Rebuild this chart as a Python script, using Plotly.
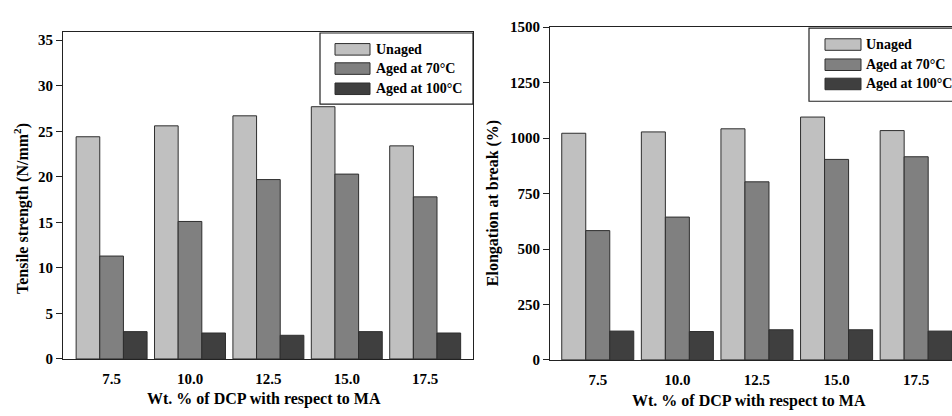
import plotly.graph_objects as go

# Data
dcp_levels = ["7.5", "10.0", "12.5", "15.0", "17.5"]
series_names = ["Unaged", "Aged at 70°C", "Aged at 100°C"]
tensile_unaged = [24.4, 25.6, 26.7, 27.7, 23.4]
tensile_aged70 = [11.3, 15.1, 19.7, 20.3, 17.8]
tensile_aged100 = [3.0, 2.85, 2.6, 3.0, 2.85]
elong_unaged = [1022, 1028, 1042, 1095, 1034]
elong_aged70 = [583, 644, 803, 904, 916]
elong_aged100 = [130, 128, 136, 136, 130]

colors = ["#c0c0c0", "#808080", "#3f3f3f"]
W, H = 952, 416
FONT = "Liberation Serif"


def px(x):
    return x / W


def py(y):
    return 1 - y / H


fig = go.Figure()

idx = list(range(len(dcp_levels)))
for name, vals, col in zip(series_names, [tensile_unaged, tensile_aged70, tensile_aged100], colors):
    fig.add_trace(go.Bar(x=idx, y=vals, name=name, marker=dict(color=col, line=dict(color="#2e2e2e", width=1)),
                         xaxis="x", yaxis="y", showlegend=False))
for name, vals, col in zip(series_names, [elong_unaged, elong_aged70, elong_aged100], colors):
    fig.add_trace(go.Bar(x=idx, y=vals, name=name, marker=dict(color=col, line=dict(color="#2e2e2e", width=1)),
                         xaxis="x2", yaxis="y2", showlegend=False))

tickfont = dict(family=FONT, size=15, color="black", weight="bold")
titlefont = dict(family=FONT, size=16, color="black", weight="bold")

common_x = dict(tickmode="array", tickvals=idx, ticktext=dcp_levels, showline=True, linecolor="#222",
                linewidth=1.2, ticks="", showgrid=False, zeroline=False, tickfont=tickfont,
                ticklabelstandoff=6)
common_y = dict(showline=True, linecolor="#222", linewidth=1.2, ticks="outside", ticklen=6, tickcolor="#222",
                tickwidth=1.2, showgrid=False, zeroline=False, tickfont=tickfont)

fig.update_layout(
    width=W, height=H, margin=dict(l=0, r=0, t=0, b=0),
    paper_bgcolor="white", plot_bgcolor="white",
    barmode="group", bargap=0.095, bargroupgap=0,
    font=dict(family=FONT, color="black"),
    xaxis=dict(domain=[px(63), px(473)], range=[-0.62, 4.61], anchor="y", mirror=True, **common_x),
    yaxis=dict(domain=[1 - 365 / H, 1 - 25 / H], range=[0, 35.9], anchor="x", mirror=True,
               tickvals=[0, 5, 10, 15, 20, 25, 30, 35], **common_y),
    xaxis2=dict(domain=[px(550), 1.0], range=[-0.6, 4.45], anchor="y2", mirror=True, **common_x),
    yaxis2=dict(domain=[1 - 366 / H, 1 - 20 / H], range=[0, 1500], anchor="x2", mirror=False,
                tickvals=[0, 250, 500, 750, 1000, 1250, 1500], **common_y),
)

shapes = []
annotations = []

# Axis titles
for text, x, y in [("Wt. % of DCP with respect to MA", 264, 407),
                   ("Wt. % of DCP with respect to MA", 749, 409)]:
    annotations.append(dict(xref="paper", yref="paper", x=px(x), y=py(y), xanchor="center", yanchor="middle",
                            showarrow=False, text=text, font=titlefont))
for text, x, y in [("Tensile strength (N/mm<sup>2</sup>)", 22, 209),
                   ("Elongation at break (%)", 493, 203)]:
    annotations.append(dict(xref="paper", yref="paper", x=px(x), y=py(y), xanchor="center", yanchor="middle",
                            showarrow=False, text=text, textangle=-90, font=titlefont))


# Legend boxes drawn in pixel positions
def legend_box(x0, y0, x1, y1, sw_x0, sw_x1, rows, text_x):
    shapes.append(dict(type="rect", xref="paper", yref="paper", x0=px(x0), x1=px(x1), y0=py(y1), y1=py(y0),
                       line=dict(color="#222", width=1.2), fillcolor="white", layer="above"))
    for name, col, yc in zip(series_names, colors, rows):
        shapes.append(dict(type="rect", xref="paper", yref="paper", x0=px(sw_x0), x1=px(sw_x1),
                           y0=py(yc + 6), y1=py(yc - 6), line=dict(color="#2e2e2e", width=1),
                           fillcolor=col, layer="above"))
        annotations.append(dict(xref="paper", yref="paper", x=px(text_x), y=py(yc), xanchor="left",
                                yanchor="middle", showarrow=False, text=name,
                                font=dict(family=FONT, size=14, color="black", weight="bold")))


legend_box(320, 26, 473, 100, 335, 370, [43, 63, 84], 374)
legend_box(809, 21, 960, 97, 825, 861, [38, 59, 79], 864)

fig.update_layout(shapes=shapes, annotations=annotations)

fig.write_html("out.html")
